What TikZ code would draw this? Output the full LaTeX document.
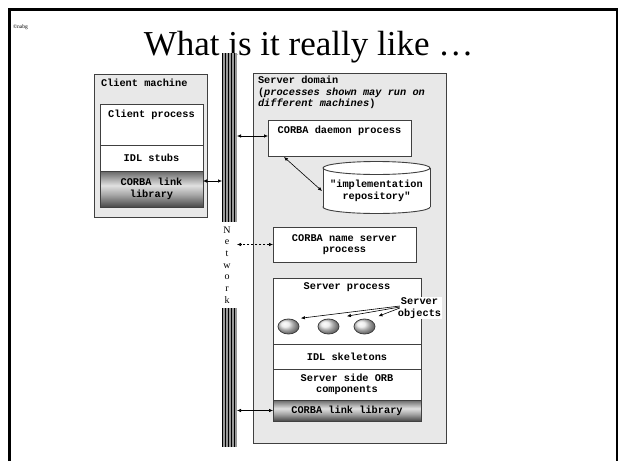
\documentclass[tikz,border=0pt]{standalone}
\usepackage{fontspec}
\setmainfont{Liberation Serif}
\newfontfamily\cour{Liberation Mono}
\usetikzlibrary{arrows.meta,shapes.geometric}
\definecolor{domfill}{RGB}{232,232,232}
\definecolor{edge}{RGB}{64,64,64}
% dark-light-dark band used for the ORB link libraries
\pgfdeclareverticalshading{linkshade}{100bp}{%
  color(0bp)=(black!72); color(25bp)=(black!72); color(42bp)=(black!35);
  color(55bp)=(black!12); color(75bp)=(black!60); color(100bp)=(black!60)}

\begin{document}
\begin{tikzpicture}[x=1pt,y=-1pt,
  every node/.style={inner sep=0pt, outer sep=0pt},
  domainbox/.style={draw=edge, line width=0.9pt, fill=domfill, anchor=north west},
  partbox/.style={draw=edge, line width=0.9pt, fill=white, anchor=north west},
  linklib/.style={draw=edge, line width=0.9pt, anchor=north west, shading=linkshade},
  mono/.style={font=\cour\bfseries\fontsize{10.3}{11.6}\selectfont, align=center},
  netlink/.style={{Latex[length=4pt,width=3.5pt]}-{Latex[length=4pt,width=3.5pt]}, line width=0.6pt},
  objarrow/.style={-{Latex[length=4pt,width=3.5pt]}, line width=0.6pt},
  objball/.style={ellipse, draw=edge, line width=0.8pt, shading=ball, ball color=black!9,
    minimum width=21pt, minimum height=15pt}
]
\useasboundingbox (0,0) rectangle (618,461);

% slide frame
\draw[line width=3pt] (9,461) -- (9,9.5) -- (618,9.5);
\draw[line width=1.3pt] (617,9.5) -- (617,461);

\node[font=\fontsize{5.5}{5.5}\selectfont, anchor=west] (copy) at (13,27) {©nabg};
\node[font=\fontsize{35}{35}\selectfont, anchor=base] (title) at (308.5,55) {What is it really like …};

% client side
\node[domainbox, minimum width=113pt, minimum height=143pt] (client) at (94,74) {};
\node[mono, anchor=north west] (clientlbl) at (101,79) {Client machine};
\node[partbox, minimum width=103pt, minimum height=41pt] (cproc) at (100,104) {};
\node[mono, anchor=north] (cproclbl) at ([yshift=-6pt]cproc.north) {Client process};
\node[partbox, mono, minimum width=103pt, minimum height=26pt] (stubs) at (100,145) {IDL stubs};
\node[linklib, mono, minimum width=103pt, minimum height=36pt] (clink) at (100,171) {CORBA link\\library};

% server side
\node[domainbox, minimum width=193pt, minimum height=370pt] (server) at (253,73) {};
\node[mono, align=left, anchor=north west] (serverlbl) at (258,76)
  {Server domain\\(\textit{processes shown may run on}\\\textit{different machines})};
\node[partbox, minimum width=143pt, minimum height=36pt] (daemon) at (268,120) {};
\node[mono, anchor=north] (daemonlbl) at ([yshift=-6pt]daemon.north) {CORBA daemon process};

% implementation repository (cylinder)
\fill[white, draw=edge, line width=0.9pt] (376.5,207) ellipse [x radius=53.5pt, y radius=6.5pt];
\fill[white] (323,168) rectangle (430,207);
\draw[edge, line width=0.9pt] (323,168) -- (323,207) (430,168) -- (430,207);
\fill[white, draw=edge, line width=0.9pt] (376.5,168) ellipse [x radius=53.5pt, y radius=6.5pt];
\node[mono, minimum width=107pt, minimum height=30pt] (repo) at (376.5,191) {"implementation\\repository"};

\node[partbox, mono, minimum width=143pt, minimum height=35pt] (names) at (273,227) {CORBA name server\\process};

\node[partbox, minimum width=148pt, minimum height=66pt] (sproc) at (273,278) {};
\node[mono, anchor=north] (sproclbl) at ([yshift=-5pt]sproc.north) {Server process};
\node[partbox, mono, minimum width=148pt, minimum height=25pt] (skel) at (273,344) {IDL skeletons};
\node[partbox, mono, minimum width=148pt, minimum height=31pt] (orb) at (273,369) {Server side ORB\\components};
\node[linklib, mono, minimum width=148pt, minimum height=21pt] (slink) at (273,400) {CORBA link library};

\node[objball] (obj1) at (288.5,326.5) {};
\node[objball] (obj2) at (328.5,326.5) {};
\node[objball] (obj3) at (364.5,326.5) {};
\node[mono, fill=white, inner sep=1pt] (objlbl) at (419.5,308) {Server\\objects};

\draw[objarrow] ([shift={(3pt,2pt)}]objlbl.west) -- ([shift={(5pt,3pt)}]obj1.north east);
\draw[objarrow] ([shift={(3pt,1pt)}]objlbl.west) -- ([shift={(11pt,5pt)}]obj2.north east);
\draw[objarrow] ([shift={(3pt,0pt)}]objlbl.west) -- ([shift={(6.5pt,5pt)}]obj3.north east);

% network backbone
\node[fill=black!40, minimum width=15pt, minimum height=394pt, anchor=north west] (net) at (222,53) {};
\foreach \x in {0.5,3.5,...,15}
  \draw[line width=0.9pt] ([xshift=\x pt]net.north west) -- ([xshift=\x pt]net.south west);
\node[fill=white, minimum width=18pt, minimum height=86pt, anchor=north west] (netlbl) at (220,222) {};
\node[font=\fontsize{10}{11.7}\selectfont, align=center] (netword) at (227,265) {N\\e\\t\\w\\o\\r\\k};

% connections to the network
\coordinate (c1) at ([yshift=8pt]clink.east);
\draw[netlink] (c1) -- (c1 -| net.west);
\coordinate (c2) at ([yshift=2pt]daemon.west);
\draw[netlink] (c2) -- (c2 -| net.east);
\draw[netlink, dash pattern=on 2pt off 2pt] (names.west) -- (names.west -| net.east);
\draw[netlink] (slink.west) -- (slink.west -| net.east);

\draw[netlink] ([shift={(16pt,-1pt)}]daemon.south west) -- ([xshift=-1pt]repo.west);
\end{tikzpicture}
\end{document}
